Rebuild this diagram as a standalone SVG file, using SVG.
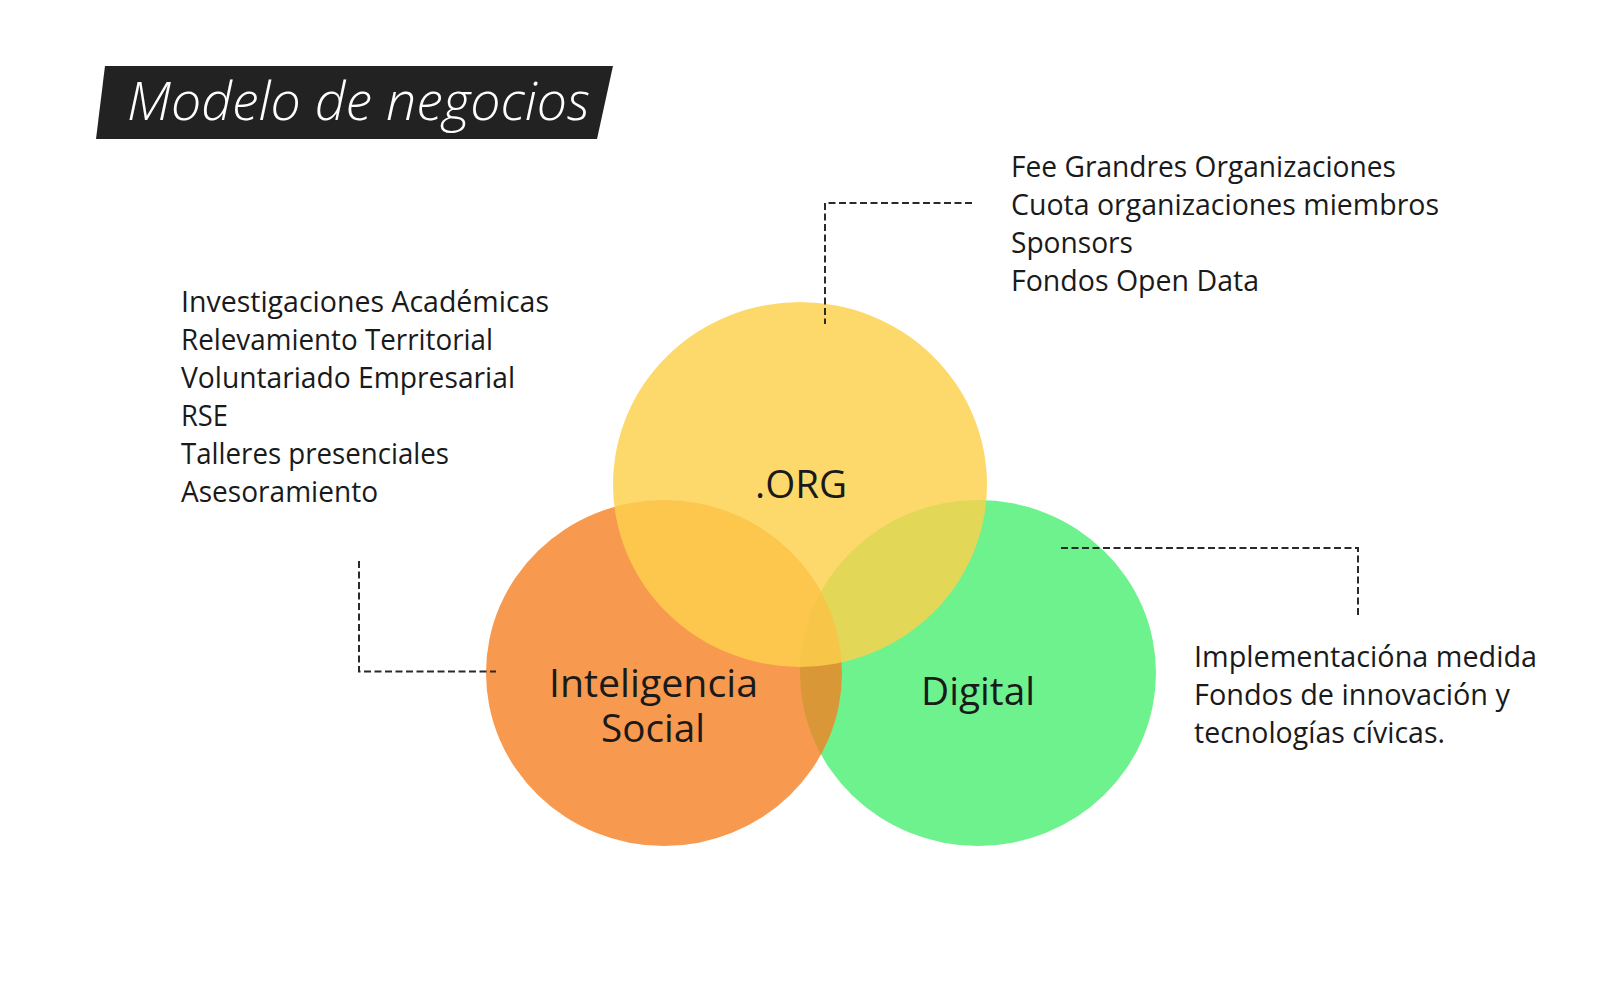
<svg xmlns="http://www.w3.org/2000/svg" width="1600" height="1000" viewBox="0 0 1600 1000">
  <style>
    .list { font-family: "Open Sans", "Liberation Sans", sans-serif; font-size: 30px; fill: #1a1a1a; }
    .label { font-family: "Open Sans", "Liberation Sans", sans-serif; font-size: 38px; fill: #1a1a1a; text-anchor: middle; }
    .title { font-family: "Open Sans", "Liberation Sans", sans-serif; font-size: 54px; font-style: italic; font-weight: 300; fill: #ffffff; }
    .dash { fill: none; stroke: #2a2a2a; stroke-width: 2; stroke-dasharray: 7 3.5; }
  </style>
  <rect width="1600" height="1000" fill="#ffffff"/>

  <g id="title">
    <polygon points="105,66 613,66 597,139 96,139" fill="#222222"/>
    <text class="title" x="127" y="120" textLength="463" lengthAdjust="spacingAndGlyphs">Modelo de negocios</text>
  </g>

  <g id="node-digital">
    <ellipse cx="978" cy="673" rx="178" ry="173" fill="#6EF28E"/>
  </g>
  <g id="node-social">
    <ellipse cx="664" cy="673" rx="178" ry="173" fill="#F57F22" fill-opacity="0.8"/>
  </g>
  <g id="node-org">
    <ellipse cx="800" cy="484.5" rx="187" ry="182.5" fill="#FDD14C" fill-opacity="0.82"/>
  </g>

  <g id="labels">
    <text class="label" x="801" y="498" textLength="92" lengthAdjust="spacingAndGlyphs">.ORG</text>
    <text class="label" x="653.5" y="697" textLength="209" lengthAdjust="spacingAndGlyphs">Inteligencia</text>
    <text class="label" x="653" y="742" textLength="104" lengthAdjust="spacingAndGlyphs">Social</text>
    <text class="label" x="978" y="705" textLength="114" lengthAdjust="spacingAndGlyphs">Digital</text>
  </g>

  <g id="connectors">
    <path class="dash" d="M 972 203 H 825 V 324"/>
    <path class="dash" d="M 359 561 V 671.5 H 496"/>
    <path class="dash" d="M 1061 548 H 1358 V 616"/>
  </g>

  <g id="list-social">
    <text class="list" x="181" y="312" textLength="368" lengthAdjust="spacingAndGlyphs">Investigaciones Académicas</text>
    <text class="list" x="181" y="350" textLength="312" lengthAdjust="spacingAndGlyphs">Relevamiento Territorial</text>
    <text class="list" x="181" y="388" textLength="334" lengthAdjust="spacingAndGlyphs">Voluntariado Empresarial</text>
    <text class="list" x="181" y="426" textLength="47" lengthAdjust="spacingAndGlyphs">RSE</text>
    <text class="list" x="181" y="464" textLength="268" lengthAdjust="spacingAndGlyphs">Talleres presenciales</text>
    <text class="list" x="181" y="502" textLength="197" lengthAdjust="spacingAndGlyphs">Asesoramiento</text>
  </g>

  <g id="list-org">
    <text class="list" x="1011" y="177" textLength="385" lengthAdjust="spacingAndGlyphs">Fee Grandres Organizaciones</text>
    <text class="list" x="1011" y="215" textLength="428" lengthAdjust="spacingAndGlyphs">Cuota organizaciones miembros</text>
    <text class="list" x="1011" y="253" textLength="122" lengthAdjust="spacingAndGlyphs">Sponsors</text>
    <text class="list" x="1011" y="291" textLength="248" lengthAdjust="spacingAndGlyphs">Fondos Open Data</text>
  </g>

  <g id="list-digital">
    <text class="list" x="1194" y="667" textLength="343" lengthAdjust="spacingAndGlyphs">Implementacióna medida</text>
    <text class="list" x="1194" y="705" textLength="316" lengthAdjust="spacingAndGlyphs">Fondos de innovación y</text>
    <text class="list" x="1194" y="743" textLength="251" lengthAdjust="spacingAndGlyphs">tecnologías cívicas.</text>
  </g>
</svg>
